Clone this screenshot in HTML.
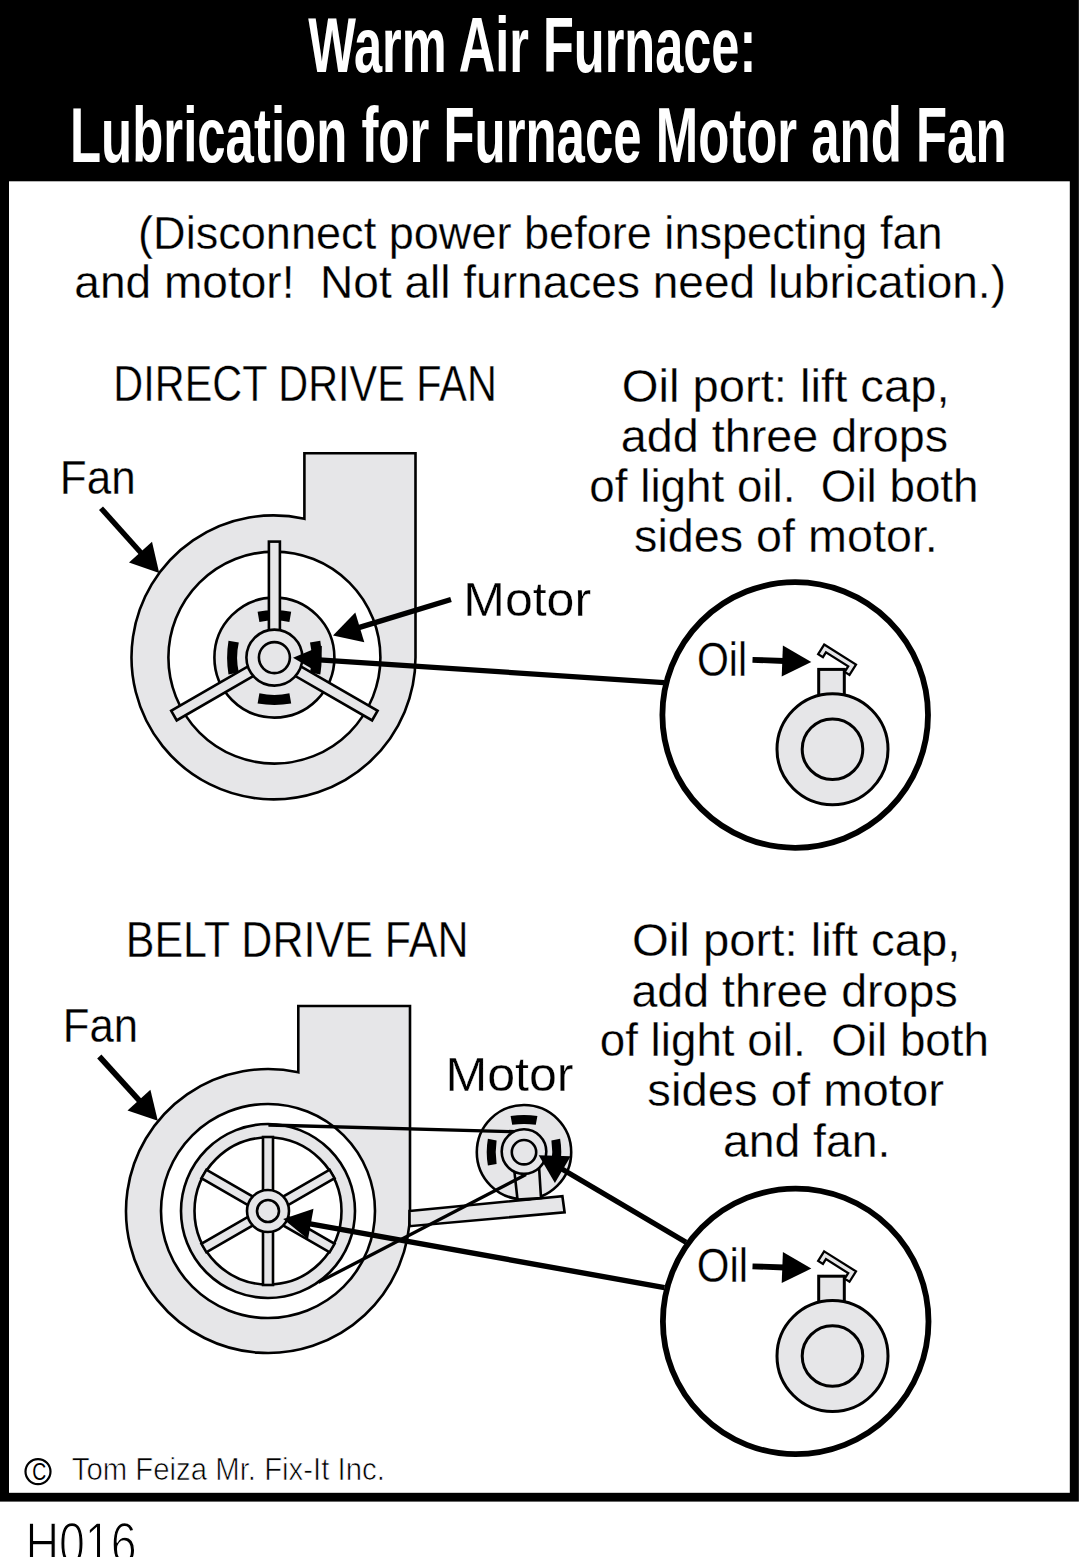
<!DOCTYPE html>
<html><head><meta charset="utf-8"><style>
html,body{margin:0;padding:0;background:#fff;}
svg{display:block;}
text{font-family:"Liberation Sans",sans-serif;}
.t{stroke:#fff;stroke-width:0.3px;}
.t2{stroke:#fff;stroke-width:1.4px;}
.t3{stroke:#fff;stroke-width:0.7px;}
.t4{stroke:#fff;stroke-width:0.4px;}
</style></head><body>
<svg width="1079" height="1557" viewBox="0 0 1079 1557">
<rect x="0" y="0" width="1078" height="1501.6" fill="#000"/>
<rect x="1078" y="0" width="1" height="1501.6" fill="#222"/>
<rect x="9" y="181.3" width="1060.8" height="1311.5" fill="#fff"/>
<text x="308.2" y="72" font-size="77" font-weight="bold" fill="#fff" text-anchor="start" textLength="448.05" lengthAdjust="spacingAndGlyphs" xml:space="preserve">Warm Air Furnace:</text>
<text x="70.0" y="162" font-size="77" font-weight="bold" fill="#fff" text-anchor="start" textLength="936.5" lengthAdjust="spacingAndGlyphs" xml:space="preserve">Lubrication for Furnace Motor and Fan</text>
<text class="t" x="138.12" y="248.9" font-size="47" font-weight="normal" fill="#000" text-anchor="start" textLength="804.48" lengthAdjust="spacingAndGlyphs" xml:space="preserve">(Disconnect power before inspecting fan</text>
<text class="t" x="74.3" y="297.8" font-size="47" font-weight="normal" fill="#000" text-anchor="start" textLength="931.71" lengthAdjust="spacingAndGlyphs" xml:space="preserve">and motor!  Not all furnaces need lubrication.)</text>
<text class="t4" x="113.33" y="400.7" font-size="50" font-weight="normal" fill="#000" text-anchor="start" textLength="383.56" lengthAdjust="spacingAndGlyphs" xml:space="preserve">DIRECT DRIVE FAN</text>
<text class="t" x="59.87" y="493.8" font-size="48" font-weight="normal" fill="#000" text-anchor="start" textLength="75.77" lengthAdjust="spacingAndGlyphs" xml:space="preserve">Fan</text>
<text class="t" x="463.22" y="615.5" font-size="48" font-weight="normal" fill="#000" text-anchor="start" textLength="127.84" lengthAdjust="spacingAndGlyphs" xml:space="preserve">Motor</text>
<text class="t" x="621.78" y="401.8" font-size="47" font-weight="normal" fill="#000" text-anchor="start" textLength="327.78" lengthAdjust="spacingAndGlyphs" xml:space="preserve">Oil port: lift cap,</text>
<text class="t" x="620.85" y="451.9" font-size="47" font-weight="normal" fill="#000" text-anchor="start" textLength="327.25" lengthAdjust="spacingAndGlyphs" xml:space="preserve">add three drops</text>
<text class="t" x="589.36" y="502.0" font-size="47" font-weight="normal" fill="#000" text-anchor="start" textLength="389.14" lengthAdjust="spacingAndGlyphs" xml:space="preserve">of light oil.  Oil both</text>
<text class="t" x="634.12" y="552.2" font-size="47" font-weight="normal" fill="#000" text-anchor="start" textLength="303.73" lengthAdjust="spacingAndGlyphs" xml:space="preserve">sides of motor.</text>
<path d="M304.4 518.8 L304.4 453.2 L415.5 453.2 L415.5 657.6 A142 142 0 1 1 304.4 518.8 Z" fill="#e6e6e8" stroke="#000" stroke-width="2.6"/>
<circle cx="274.4" cy="657.6" r="106" fill="#fff" stroke="#000" stroke-width="2.6"/>
<circle cx="274.4" cy="657.6" r="60" fill="#e6e6e8" stroke="#000" stroke-width="2.6"/>
<path d="M-16.80 -45.90 Q0 -48.70 16.80 -45.90 L15.00 -35.60 Q0 -39.00 -15.00 -35.60 Z" fill="#000" transform="translate(274.4 657.6) rotate(0)"/>
<path d="M-16.80 -45.90 Q0 -48.70 16.80 -45.90 L15.00 -35.60 Q0 -39.00 -15.00 -35.60 Z" fill="#000" transform="translate(274.4 657.6) rotate(180)"/>
<path d="M-16.80 -45.90 Q0 -48.70 16.80 -45.90 L15.00 -35.60 Q0 -39.00 -15.00 -35.60 Z" fill="#000" transform="translate(274.4 657.6) rotate(270)"/>
<path d="M-16.80 -45.90 Q0 -48.70 16.80 -45.90 L15.00 -35.60 Q0 -39.00 -15.00 -35.60 Z" fill="#000" transform="translate(274.4 657.6) rotate(90)"/>
<rect x="20" y="-5.5" width="96" height="11" fill="#e6e6e8" stroke="#000" stroke-width="2.6" transform="translate(274.4 657.6) rotate(-90)"/>
<rect x="20" y="-5.5" width="96" height="11" fill="#e6e6e8" stroke="#000" stroke-width="2.6" transform="translate(274.4 657.6) rotate(30)"/>
<rect x="20" y="-5.5" width="96" height="11" fill="#e6e6e8" stroke="#000" stroke-width="2.6" transform="translate(274.4 657.6) rotate(150)"/>
<circle cx="274.4" cy="657.6" r="28" fill="#e6e6e8" stroke="#000" stroke-width="2.6"/>
<circle cx="274.4" cy="657.6" r="15.5" fill="#e6e6e8" stroke="#000" stroke-width="2.6"/>
<line x1="101.0" y1="508.2" x2="141.8" y2="553.7" stroke="#000" stroke-width="5.4"/>
<polygon points="159.2,573.0 129.0,562.5 152.0,541.8" fill="#000"/>
<line x1="451.0" y1="599.5" x2="357.9" y2="627.9" stroke="#000" stroke-width="5.4"/>
<polygon points="333.0,635.5 355.3,612.5 364.3,642.2" fill="#000"/>
<line x1="664" y1="682.6" x2="300" y2="658.6" stroke="#000" stroke-width="5.2"/>
<line x1="320.0" y1="659.6" x2="318.9" y2="659.5" stroke="#000" stroke-width="5.2"/>
<polygon points="293.0,657.8 321.9,645.7 320.0,673.6" fill="#000"/>
<circle cx="795.2" cy="715" r="132.8" fill="#fff" stroke="#000" stroke-width="5.8"/>
<rect x="818.7" y="669.4000000000001" width="25.6" height="40" fill="#e6e6e8" stroke="#000" stroke-width="3.0"/>
<circle cx="832.5" cy="749.2" r="55.5" fill="#e6e6e8" stroke="#000" stroke-width="3.0"/>
<circle cx="832.5" cy="749.2" r="30.3" fill="#e6e6e8" stroke="#000" stroke-width="3.0"/>
<polygon points="0,0 40,0 40,13 34,13 34,6 6,6 6,12 0,12" fill="#e6e6e8" stroke="#000" stroke-width="2.4" stroke-linejoin="miter" transform="translate(823.8 642.9000000000001) rotate(32.2) translate(1.2 1.2) scale(0.94)"/>
<text class="t" x="696.93" y="676.0" font-size="48" font-weight="normal" fill="#000" text-anchor="start" textLength="50.14" lengthAdjust="spacingAndGlyphs" xml:space="preserve">Oil</text>
<line x1="752.5" y1="659.8" x2="784.3" y2="661.0" stroke="#000" stroke-width="5.8"/>
<polygon points="811.3,662.1 781.7,676.5 782.9,645.5" fill="#000"/>
<text class="t4" x="125.7" y="957.4" font-size="50" font-weight="normal" fill="#000" text-anchor="start" textLength="342.81" lengthAdjust="spacingAndGlyphs" xml:space="preserve">BELT DRIVE FAN</text>
<text class="t" x="62.82" y="1041.7" font-size="48" font-weight="normal" fill="#000" text-anchor="start" textLength="75.32" lengthAdjust="spacingAndGlyphs" xml:space="preserve">Fan</text>
<text class="t" x="445.42" y="1091.0" font-size="48" font-weight="normal" fill="#000" text-anchor="start" textLength="128.1" lengthAdjust="spacingAndGlyphs" xml:space="preserve">Motor</text>
<text class="t" x="632.05" y="956.4" font-size="47" font-weight="normal" fill="#000" text-anchor="start" textLength="328.38" lengthAdjust="spacingAndGlyphs" xml:space="preserve">Oil port: lift cap,</text>
<text class="t" x="631.41" y="1006.5" font-size="47" font-weight="normal" fill="#000" text-anchor="start" textLength="326.28" lengthAdjust="spacingAndGlyphs" xml:space="preserve">add three drops</text>
<text class="t" x="599.72" y="1056.3" font-size="47" font-weight="normal" fill="#000" text-anchor="start" textLength="389.29" lengthAdjust="spacingAndGlyphs" xml:space="preserve">of light oil.  Oil both</text>
<text class="t" x="647.39" y="1106.0" font-size="47" font-weight="normal" fill="#000" text-anchor="start" textLength="296.56" lengthAdjust="spacingAndGlyphs" xml:space="preserve">sides of motor</text>
<text class="t" x="722.88" y="1156.6" font-size="47" font-weight="normal" fill="#000" text-anchor="start" textLength="167.58" lengthAdjust="spacingAndGlyphs" xml:space="preserve">and fan.</text>
<path d="M298.3 1072.3 L298.3 1006 L410 1006 L410 1211 A142 142 0 1 1 298.3 1072.3 Z" fill="#e6e6e8" stroke="#000" stroke-width="2.6"/>
<circle cx="268" cy="1211" r="107" fill="#fff" stroke="#000" stroke-width="2.6"/>
<polygon points="409.5,1211 562.4,1196.2 564.6,1212.3 409.5,1226.2" fill="#e6e6e8" stroke="#000" stroke-width="2.6"/>
<circle cx="268" cy="1211" r="80.2" fill="none" stroke="#e6e6e8" stroke-width="13.5"/>
<circle cx="268" cy="1211" r="87" fill="none" stroke="#000" stroke-width="2.6"/>
<circle cx="268" cy="1211" r="73.5" fill="none" stroke="#000" stroke-width="2.6"/>
<rect x="20" y="-5.0" width="54" height="10" fill="#e6e6e8" stroke="#000" stroke-width="2.6" transform="translate(268 1211) rotate(-90)"/>
<rect x="20" y="-5.0" width="54" height="10" fill="#e6e6e8" stroke="#000" stroke-width="2.6" transform="translate(268 1211) rotate(-30)"/>
<rect x="20" y="-5.0" width="54" height="10" fill="#e6e6e8" stroke="#000" stroke-width="2.6" transform="translate(268 1211) rotate(30)"/>
<rect x="20" y="-5.0" width="54" height="10" fill="#e6e6e8" stroke="#000" stroke-width="2.6" transform="translate(268 1211) rotate(90)"/>
<rect x="20" y="-5.0" width="54" height="10" fill="#e6e6e8" stroke="#000" stroke-width="2.6" transform="translate(268 1211) rotate(150)"/>
<rect x="20" y="-5.0" width="54" height="10" fill="#e6e6e8" stroke="#000" stroke-width="2.6" transform="translate(268 1211) rotate(210)"/>
<circle cx="268" cy="1211" r="21" fill="#e6e6e8" stroke="#000" stroke-width="2.6"/>
<circle cx="268" cy="1211" r="11" fill="#e6e6e8" stroke="#000" stroke-width="2.6"/>
<circle cx="524" cy="1152.2" r="47.2" fill="#e6e6e8" stroke="#000" stroke-width="2.6"/>
<path d="M-13.40 -36.10 Q0 -38.50 13.40 -36.10 L11.80 -27.40 Q0 -29.20 -11.80 -27.40 Z" fill="#000" transform="translate(524 1152.2) rotate(0)"/>
<path d="M-13.40 -36.10 Q0 -38.50 13.40 -36.10 L11.80 -27.40 Q0 -29.20 -11.80 -27.40 Z" fill="#000" transform="translate(524 1152.2) rotate(270)"/>
<path d="M-13.40 -36.10 Q0 -38.50 13.40 -36.10 L11.80 -27.40 Q0 -29.20 -11.80 -27.40 Z" fill="#000" transform="translate(524 1152.2) rotate(90)"/>
<polygon points="514,1168 539,1166 541,1198 517.5,1199.5" fill="#e6e6e8" stroke="#000" stroke-width="2.6"/>
<line x1="268.4" y1="1125" x2="515" y2="1131.7" stroke="#000" stroke-width="3.3"/>
<circle cx="524" cy="1151.6" r="22.3" fill="#e6e6e8" stroke="#000" stroke-width="2.6"/>
<circle cx="524" cy="1152.2" r="12.2" fill="#e6e6e8" stroke="#000" stroke-width="2.6"/>
<line x1="318.4" y1="1282.4" x2="526" y2="1174.5" stroke="#000" stroke-width="3.3"/>
<line x1="99.3" y1="1056.5" x2="140.3" y2="1101.6" stroke="#000" stroke-width="5.7"/>
<polygon points="157.8,1120.8 127.5,1110.5 150.4,1089.7" fill="#000"/>
<line x1="686.0" y1="1242.3" x2="561.1" y2="1168.5" stroke="#000" stroke-width="5.4"/>
<polygon points="538.7,1155.3 570.7,1156.2 554.9,1182.9" fill="#000"/>
<line x1="664.5" y1="1287.6" x2="308.8" y2="1223.6" stroke="#000" stroke-width="5.4"/>
<polygon points="283.2,1219.0 313.5,1208.7 308.0,1239.2" fill="#000"/>
<circle cx="795.7" cy="1321.4" r="132.8" fill="#fff" stroke="#000" stroke-width="5.8"/>
<rect x="818.7" y="1276.2" width="25.6" height="40" fill="#e6e6e8" stroke="#000" stroke-width="3.0"/>
<circle cx="832.5" cy="1356" r="55.5" fill="#e6e6e8" stroke="#000" stroke-width="3.0"/>
<circle cx="832.5" cy="1356" r="30.3" fill="#e6e6e8" stroke="#000" stroke-width="3.0"/>
<polygon points="0,0 40,0 40,13 34,13 34,6 6,6 6,12 0,12" fill="#e6e6e8" stroke="#000" stroke-width="2.4" stroke-linejoin="miter" transform="translate(823.8 1249.7) rotate(32.2) translate(1.2 1.2) scale(0.94)"/>
<text class="t" x="696.86" y="1281.8" font-size="48" font-weight="normal" fill="#000" text-anchor="start" textLength="51.35" lengthAdjust="spacingAndGlyphs" xml:space="preserve">Oil</text>
<line x1="752.5" y1="1266.3" x2="784.3" y2="1267.5" stroke="#000" stroke-width="5.8"/>
<polygon points="811.3,1268.6 781.7,1283.0 782.9,1252.0" fill="#000"/>
<circle cx="38" cy="1471.6" r="12.5" fill="none" stroke="#000" stroke-width="2.2"/>
<text x="32.3" y="1479.6" font-size="23" font-weight="normal" fill="#000" text-anchor="start" textLength="14" lengthAdjust="spacingAndGlyphs" >C</text>
<text class="t3" x="71.74" y="1479.9" font-size="32" font-weight="normal" fill="#000" text-anchor="start" textLength="313.08" lengthAdjust="spacingAndGlyphs" xml:space="preserve">Tom Feiza Mr. Fix-It Inc.</text>
<text class="t2" x="25.38" y="1564" font-size="59" font-weight="normal" fill="#000" text-anchor="start" textLength="111.27" lengthAdjust="spacingAndGlyphs" xml:space="preserve">H016</text>
</svg>
</body></html>
